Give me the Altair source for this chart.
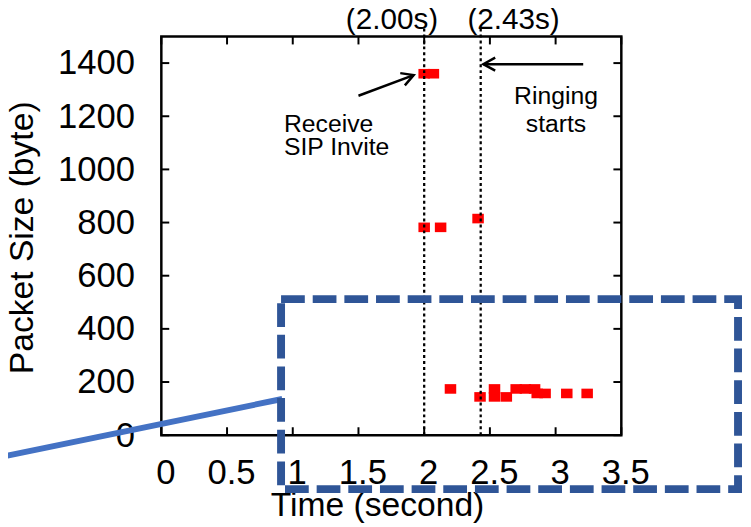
import altair as alt
import pandas as pd

# ---- data ----
pkt_time = [2.00, 2.07, 2.00, 2.125, 2.41, 2.20, 2.425, 2.535, 2.535, 2.625,
            2.70, 2.77, 2.84, 2.86, 2.92, 3.085, 3.24]
pkt_size = [1360, 1360, 782, 782, 815, 174, 144, 174, 144, 144,
            174, 174, 174, 157, 157, 157, 157]

event_time = [2.00, 2.43]
event_label = ["(2.00s)", "(2.43s)"]
event_label_x = [1.755, 2.68]

x_ticks = [0, 0.5, 1, 1.5, 2, 2.5, 3, 3.5]
y_ticks = [0, 200, 400, 600, 800, 1000, 1200, 1400]

# annotation arrows (data units): start -> tip
arrow_x = [1.50, 3.21]
arrow_y = [1277, 1396]
arrow_x2 = [1.92, 2.45]
arrow_y2 = [1355, 1396]
arrow_angle = [339.4, 180]

note_text = ["Receive", "SIP Invite", "Ringing", "starts"]
note_x = [0.933, 0.933, 3.003, 3.003]
note_y = [1172, 1083, 1277, 1172]
note_align = ["left", "left", "center", "center"]

# overlay callout (dashed box and connector line), data units
box_x = [0.911]
box_x2 = [4.388]
box_y = [512]
box_y2 = [-203]
conn_x = [-1.3]
conn_y = [-90]
conn_x2 = [0.92]
conn_y2 = [136]

FONT = "Liberation Sans"
W, H = 465, 403
xs = alt.Scale(domain=[0, 3.5], nice=False, zero=False)
ys = alt.Scale(domain=[0, 1500], nice=False, zero=False)

pts = pd.DataFrame({"t": pkt_time, "v": pkt_size})
ev = pd.DataFrame({"t": event_time, "lab": event_label, "lx": event_label_x})
xt = pd.DataFrame({"t": x_ticks})
yt = pd.DataFrame({"v": y_ticks})
arr = pd.DataFrame({"t": arrow_x, "v": arrow_y, "t2": arrow_x2, "v2": arrow_y2, "ang": arrow_angle})
notes = pd.DataFrame({"txt": note_text, "t": note_x, "v": note_y, "al": note_align})
box = pd.DataFrame({"t": box_x, "t2": box_x2, "v": box_y, "v2": box_y2})
conn = pd.DataFrame({"t": conn_x, "v": conn_y, "t2": conn_x2, "v2": conn_y2})

x_axis = alt.Axis(values=x_ticks, format="~g",
                  labelFontSize=35, labelFont=FONT, labelColor="black",
                  labelPadding=49, labelBaseline="alphabetic", labelOffset=4,
                  labelFlush=False, labelOverlap=False,
                  titleFontSize=34, titleFont=FONT, titleFontWeight="normal",
                  titleColor="black", titleX=218, titleY=81,
                  titleAlign="center", titleBaseline="alphabetic",
                  ticks=False, domain=False, grid=False)
y_axis = alt.Axis(values=y_ticks, format="d",
                  labelFontSize=35, labelFont=FONT, labelColor="black",
                  labelPadding=27, labelFlush=False, labelOverlap=False,
                  titleFontSize=34, titleFont=FONT, titleFontWeight="normal",
                  titleColor="black", titleX=-140, titleY=203, titleAngle=270,
                  titleAlign="center", titleBaseline="middle",
                  ticks=False, domain=False, grid=False)


def X(field="t"):
    return alt.X(f"{field}:Q", scale=xs, axis=x_axis, title="Time (second)")


def Y(field="v"):
    return alt.Y(f"{field}:Q", scale=ys, axis=y_axis, title="Packet Size (byte)")


points = alt.Chart(pts).mark_point(
    shape="M-1.2,-1L1.2,-1L1.2,1L-1.2,1Z", filled=True, size=94,
    color="#ff0000", opacity=1, strokeWidth=0
).encode(x=X(), y=Y())

vlines = alt.Chart(ev).mark_rule(color="black", strokeWidth=2.3, strokeDash=[3, 3]).encode(
    x=X(), y=alt.value(-8), y2=alt.value(H))

vlabels = alt.Chart(ev).mark_text(font=FONT, fontSize=30, color="black",
                                   align="center", baseline="middle").encode(
    x=X("lx"), y=alt.value(-17), text="lab:N")

TL = 8
tick_b = alt.Chart(xt).mark_rule(color="black", strokeWidth=2).encode(
    x=X(), y=alt.value(H), y2=alt.value(H - TL))
tick_t = alt.Chart(xt).mark_rule(color="black", strokeWidth=2).encode(
    x=X(), y=alt.value(0), y2=alt.value(TL))
tick_l = alt.Chart(yt).mark_rule(color="black", strokeWidth=2).encode(
    y=Y(), x=alt.value(0), x2=alt.value(TL))
tick_r = alt.Chart(yt).mark_rule(color="black", strokeWidth=2).encode(
    y=Y(), x=alt.value(W), x2=alt.value(W - TL))

shafts = alt.Chart(arr).mark_rule(color="black", strokeWidth=2.5).encode(
    x=X(), y=Y(), x2="t2:Q", y2="v2:Q")
heads = alt.Chart(arr).mark_point(
    shape="M-1,-0.55L0,0L-1,0.55", filled=False, size=576,
    color="black", strokeWidth=2.5, opacity=1
).encode(x=X("t2"), y=Y("v2"), angle=alt.Angle("ang:Q", scale=None))

notes_l = alt.Chart(notes).transform_filter("datum.al == 'left'").mark_text(
    font=FONT, fontSize=25, color="black", align="left", baseline="middle"
).encode(x=X(), y=Y(), text="txt:N")
notes_c = alt.Chart(notes).transform_filter("datum.al == 'center'").mark_text(
    font=FONT, fontSize=25, color="black", align="center", baseline="middle"
).encode(x=X(), y=Y(), text="txt:N")

connector = alt.Chart(conn).mark_rule(color="#4472C4", strokeWidth=6).encode(
    x=X(), y=Y(), x2="t2:Q", y2="v2:Q")
dashbox = alt.Chart(box).mark_rect(fillOpacity=0, stroke="#2F5597", strokeWidth=8,
                                   strokeDash=[24, 8]).encode(
    x=X(), y=Y(), x2="t2:Q", y2="v2:Q")

chart = alt.layer(
    points, vlines, tick_b, tick_t, tick_l, tick_r, vlabels,
    shafts, heads, notes_l, notes_c, connector, dashbox
).properties(
    width=W, height=H,
    padding={"left": 155, "top": 26, "right": 123, "bottom": 90},
    autosize=alt.AutoSizeParams(type="none"),
    background="white",
).configure_view(
    stroke="black", strokeWidth=2.5
)

chart.save("out.html", embed_options={"renderer": "svg", "actions": False})
